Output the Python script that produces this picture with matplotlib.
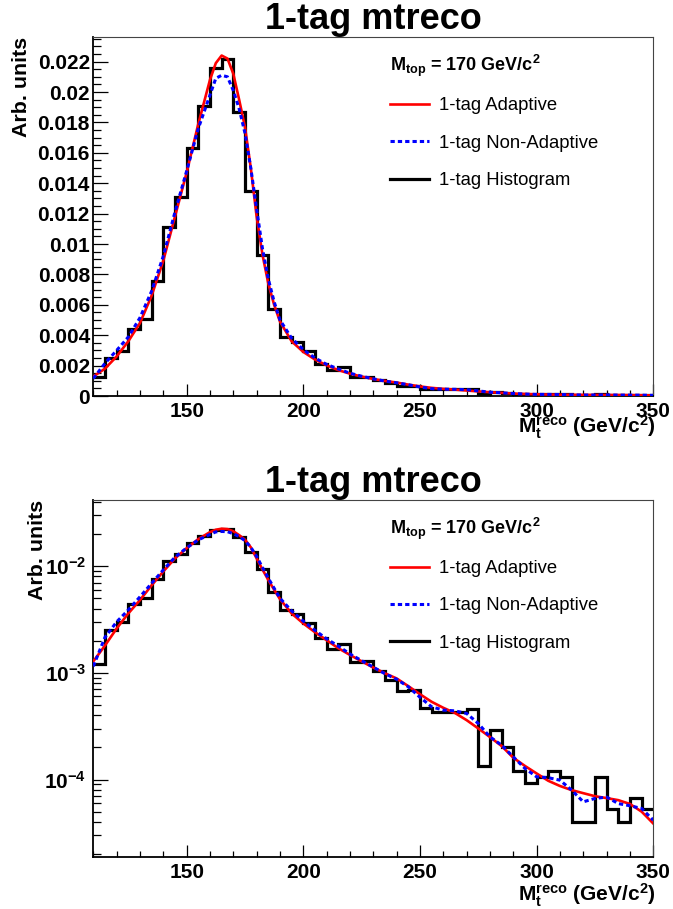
import numpy as np
import matplotlib
matplotlib.use("Agg")
import matplotlib.pyplot as plt
from matplotlib.ticker import MultipleLocator, FuncFormatter, LogLocator, NullFormatter
from matplotlib.lines import Line2D

plt.rcParams['font.family'] = ['Liberation Sans', 'DejaVu Sans']
plt.rcParams['mathtext.fontset'] = 'custom'
plt.rcParams['mathtext.rm'] = 'Liberation Sans'
plt.rcParams['mathtext.it'] = 'Liberation Sans:italic'
plt.rcParams['mathtext.bf'] = 'Liberation Sans:bold'
plt.rcParams['mathtext.default'] = 'bf'
plt.rcParams['axes.unicode_minus'] = False

# Histogram: 5 GeV bins starting at 110 GeV
bin_lo = 110
bin_w = 5
hist_vals = [0.00122, 0.00253, 0.00298, 0.00438, 0.00505, 0.00755, 0.0111, 0.0131,
             0.0163, 0.0191, 0.0216, 0.0222, 0.0187, 0.0135, 0.0093, 0.00574,
             0.00390, 0.00356, 0.00293, 0.00210, 0.00168, 0.00188, 0.00127, 0.00128,
             0.00103, 0.00086, 0.00068, 0.00069, 0.00047, 0.000428, 0.000428, 0.000428,
             0.000455, 0.000134, 0.00029, 0.000201, 0.000119, 0.0000925, 0.000106, 0.000119,
             0.000106, 0.0000397, 0.0000397, 0.000106, 0.0000525, 0.0000397, 0.0000668, 0.0000527]

# Fitted curves
curve_x = [110, 115, 120, 125, 130, 135, 140, 145, 150, 155, 160, 162.5, 165, 167.5,
           170, 172.5, 175, 177.5, 180, 182.5, 185, 187.5, 190, 195, 200, 205, 210,
           215, 220, 225, 230, 235, 240, 245, 250, 255, 260, 265, 270, 275, 280, 285,
           290, 295, 300, 305, 310, 315, 320, 325, 330, 335, 340, 345, 350]
adaptive = [0.00128, 0.0018, 0.0026, 0.0036, 0.0048, 0.0066, 0.0089, 0.0118, 0.0147,
            0.0179, 0.0208, 0.0219, 0.0224, 0.0222, 0.0212, 0.0195, 0.0177, 0.0150,
            0.0118, 0.0093, 0.0074, 0.0060, 0.0049, 0.0036, 0.0029, 0.0024, 0.00202,
            0.0017, 0.00147, 0.00128, 0.00112, 0.00099, 0.000885, 0.00075, 0.00063,
            0.000535, 0.00047, 0.00042, 0.00036, 0.000301, 0.00025, 0.000206, 0.000160,
            0.000134, 0.000114, 0.0000973, 0.000087, 0.0000796, 0.0000745, 0.0000698,
            0.000067, 0.0000641, 0.000059, 0.000050, 0.0000387]
non_adaptive = [0.00115, 0.00215, 0.0030, 0.00388, 0.00515, 0.0069, 0.0092, 0.0121, 0.0148,
                0.0176, 0.0198, 0.0209, 0.0211, 0.0210, 0.0201, 0.0189, 0.0173, 0.0150,
                0.0123, 0.0097, 0.0077, 0.0062, 0.0050, 0.0038, 0.00305, 0.0025, 0.00208,
                0.00178, 0.0015, 0.0013, 0.00113, 0.00098, 0.00087, 0.00074, 0.00059,
                0.00048, 0.000447, 0.00044, 0.000416, 0.000335, 0.000251, 0.00021, 0.000163,
                0.000127, 0.000106, 0.000104, 0.0000986, 0.0000796, 0.0000618, 0.0000665,
                0.0000685, 0.0000595, 0.0000568, 0.0000536, 0.0000416]

title = "1-tag mtreco"
header = r"M$_{top}$ = 170 GeV/c$^{2}$"
labels = ["1-tag Adaptive", "1-tag Non-Adaptive", "1-tag Histogram"]
xlabel = r"M$_{t}^{reco}$ (GeV/c$^{2}$)"

edges = bin_lo + bin_w * np.arange(len(hist_vals) + 1)

fig = plt.figure(figsize=(6.73, 9.09), dpi=100)
ax1 = fig.add_axes([93.3 / 673, 1 - 396 / 909, 560 / 673, 358.7 / 909])
ax2 = fig.add_axes([93.3 / 673, 1 - 857 / 909, 560 / 673, 357 / 909])


def draw(ax):
    ax.stairs(hist_vals, edges, baseline=None, color='black', lw=2.3, zorder=2)
    ax.plot(curve_x, adaptive, color='#ff0000', lw=1.9, zorder=3)
    ax.plot(curve_x, non_adaptive, color='#0000ff', lw=2.2, ls=(0, (1.4, 1.0)), zorder=4)
    ax.set_xlim(110, 350)
    ax.xaxis.set_major_locator(MultipleLocator(50))
    ax.xaxis.set_minor_locator(MultipleLocator(10))
    ax.tick_params(axis='x', which='major', direction='in', length=8.6, width=0.9, pad=4.0,
                   labelsize=15)
    ax.tick_params(axis='x', which='minor', direction='in', length=4.3, width=0.9)
    ax.tick_params(axis='y', which='major', direction='in', length=10.8, width=0.9, pad=2.4,
                   labelsize=15)
    ax.tick_params(axis='y', which='minor', direction='in', length=5.4, width=0.9)
    for s in ['left', 'bottom']:
        ax.spines[s].set_linewidth(1.3)
    for s in ['top', 'right']:
        ax.spines[s].set_linewidth(0.8)
        ax.spines[s].set_color('#444444')
    ax.set_title(title, fontsize=26, fontweight='bold', pad=2)

    handles = [Line2D([], [], color='#ff0000', lw=1.9),
               Line2D([], [], color='#0000ff', lw=2.2, ls=(0, (1.4, 1.0))),
               Line2D([], [], color='black', lw=2.3)]
    leg = ax.legend(handles, labels, loc='upper left', bbox_to_anchor=(0.529, 0.956),
                    frameon=False, prop={'size': 13.3}, title=header,
                    title_fontproperties={'size': 13, 'weight': 'bold'},
                    alignment='left', handlelength=2.15, handletextpad=0.55,
                    labelspacing=1.1, borderpad=0, borderaxespad=0)
    leg._legend_box.sep = 13


def bold_ticks(ax):
    for lab in ax.get_xticklabels() + ax.get_yticklabels():
        lab.set_fontweight('bold')


draw(ax1)
ax1.set_ylim(0, 0.0236)
ax1.yaxis.set_major_locator(MultipleLocator(0.002))
ax1.yaxis.set_minor_locator(MultipleLocator(0.0005))
ax1.yaxis.set_major_formatter(FuncFormatter(lambda v, p: '%g' % round(v, 6)))
bold_ticks(ax1)
ax1.text(-0.129, 1.0, "Arb. units", transform=ax1.transAxes, rotation=90,
         ha='center', va='top', fontsize=15.4, fontweight='bold')
ax1.text(1.005, -0.086, xlabel, transform=ax1.transAxes, ha='right', va='center',
         fontsize=15, fontweight='bold')

draw(ax2)
ax2.set_yscale('log')
ax2.set_ylim(1.88e-5, 0.0416)
ax2.yaxis.set_major_locator(LogLocator(base=10))
ax2.yaxis.set_minor_locator(LogLocator(base=10, subs=np.arange(2, 10)))
ax2.yaxis.set_minor_formatter(NullFormatter())
ax2.tick_params(axis='y', which='major', pad=5)
bold_ticks(ax2)
ax2.text(-0.1005, 1.0, "Arb. units", transform=ax2.transAxes, rotation=90,
         ha='center', va='top', fontsize=15.4, fontweight='bold')
ax2.text(1.005, -0.108, xlabel, transform=ax2.transAxes, ha='right', va='center',
         fontsize=15, fontweight='bold')

fig.savefig("out.png", dpi=100)
